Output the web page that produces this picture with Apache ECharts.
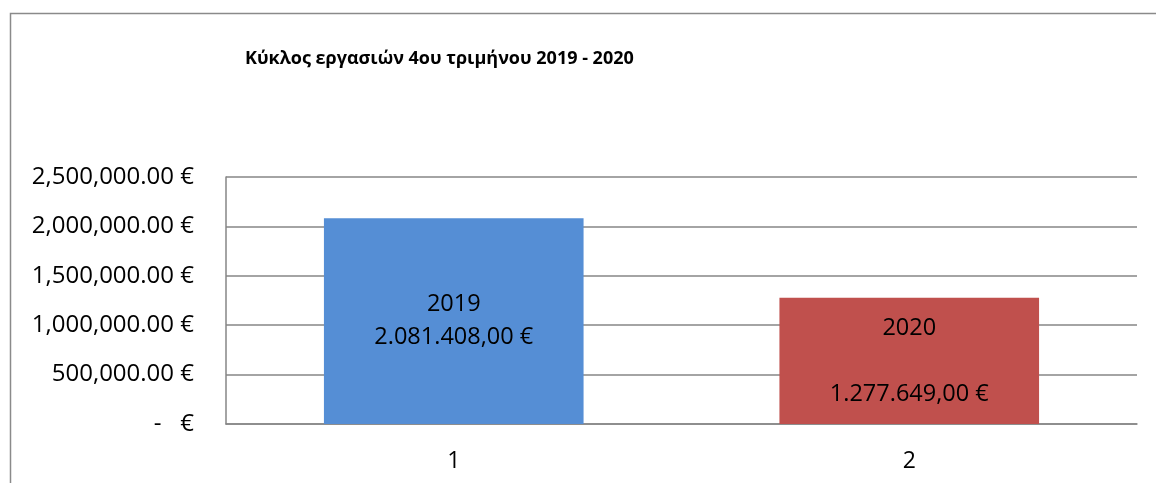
<!DOCTYPE html>
<html>
<head>
<meta charset="utf-8">
<script src="https://cdn.jsdelivr.net/npm/echarts@6/dist/echarts.min.js"></script>
<style>
  html, body { margin: 0; padding: 0; background: #fff; }
  #chart { width: 1156px; height: 483px; }
</style>
</head>
<body>
<div id="chart"></div>
<script>
// data
const categories = ['1', '2']
const years = ['2019', '2020']
const values = [2081408, 1277649]
const barColors = ['#558ED5', '#C0504D']
const yTicks = [0, 500000, 1000000, 1500000, 2000000, 2500000]

const FONT = '"Open Sans", "Noto Sans", sans-serif'

// Excel accounting style for axis: 2,500,000.00 €  /  -   €
const fmtAxis = (v) => {
  if (v === 0) return '-   €'
  return v.toLocaleString('en-US', { minimumFractionDigits: 2, maximumFractionDigits: 2 }) + ' €'
}
// Greek style for data labels: 2.081.408,00 €
const fmtLabel = (v) => {
  const parts = v.toFixed(2).split('.')
  return parts[0].replace(/\B(?=(\d{3})+(?!\d))/g, '.') + ',' + parts[1] + ' €'
}

const chart = echarts.init(document.getElementById('chart'))

chart.setOption({
  animation: false,
  backgroundColor: '#fff',
  textStyle: { fontFamily: FONT },
  graphic: [
    {
      type: 'rect',
      shape: { x: 10.5, y: 13.5, width: 1200, height: 600 },
      style: { fill: 'none', stroke: '#8a8a8a', lineWidth: 1.5 },
      silent: true
    }
  ],
  title: {
    text: 'Κύκλος εργασιών 4ου τριμήνου 2019 - 2020',
    left: 240,
    top: 45,
    textStyle: { fontFamily: FONT, fontSize: 18, fontWeight: 'bold', color: '#000' }
  },
  grid: { left: 226, right: 19, top: 177, bottom: 59, containLabel: false },
  xAxis: {
    type: 'category',
    data: categories,
    axisLine: { show: true, lineStyle: { color: '#868686', width: 1.5 } },
    axisTick: { show: false },
    axisLabel: { fontSize: 23, color: '#000', margin: 26, fontFamily: FONT }
  },
  yAxis: {
    type: 'value',
    min: yTicks[0],
    max: yTicks[yTicks.length - 1],
    interval: yTicks[1] - yTicks[0],
    axisLine: { show: true, lineStyle: { color: '#868686', width: 1.5 } },
    axisTick: { show: false },
    axisLabel: { fontSize: 24, color: '#000', margin: 32, fontFamily: FONT, formatter: fmtAxis },
    splitLine: { lineStyle: { color: '#868686', width: 1.5 } }
  },
  series: [
    {
      type: 'bar',
      barWidth: '57%',
      data: values.map((v, i) => ({
        value: v,
        itemStyle: { color: barColors[i] },
        label: {
          formatter: i === 0
            ? years[i] + '\n' + fmtLabel(v)
            : years[i] + '\n\n' + fmtLabel(v)
        }
      })),
      label: {
        show: true,
        position: 'inside',
        color: '#000',
        fontSize: 23.5,
        lineHeight: 33,
        fontFamily: FONT,
        align: 'center'
      }
    }
  ]
})
</script>
</body>
</html>
